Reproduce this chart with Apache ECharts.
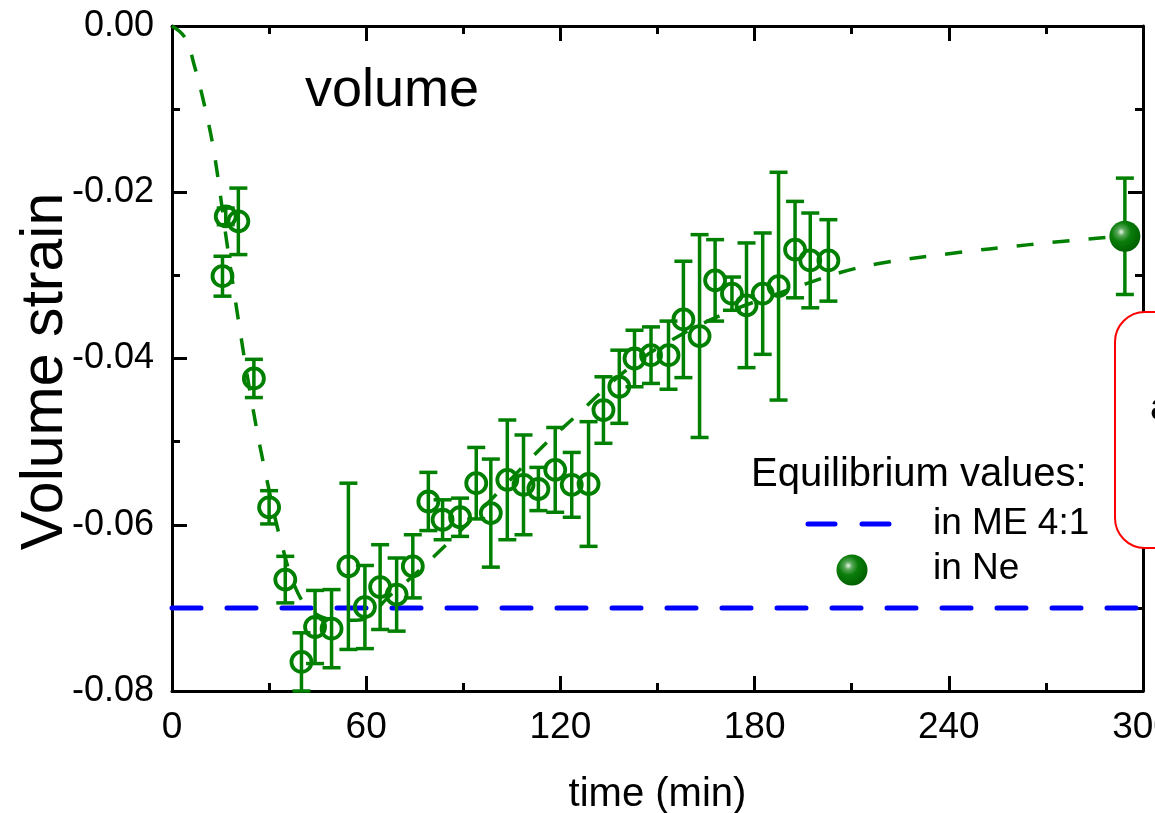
<!DOCTYPE html>
<html>
<head>
<meta charset="utf-8">
<script src="https://cdn.jsdelivr.net/npm/echarts@6/dist/echarts.min.js"></script>
<style>
  html, body { margin: 0; padding: 0; background: #fff; }
  #chart { width: 1155px; height: 813px; }
</style>
</head>
<body>
<div id="chart"></div>
<script>
// measured volume strain (open circles)
const times = [15.6, 16.6, 20.5, 25.3, 30, 35, 40, 44.2, 49.3, 54.5, 59.6, 64.3, 69.4, 74.4, 79.2, 83.6, 89, 94, 98.5, 103.6,
  108.6, 113.2, 118.4, 123.5, 128.7, 133.3, 138.2, 142.9, 148, 153.4, 158, 163, 167.8, 173, 177.5, 182.5, 187.4, 192.5, 197.2, 202.8]
const strains = [-0.0301, -0.0229, -0.0235, -0.0424, -0.0579, -0.0666, -0.0765, -0.0723, -0.0725, -0.0650, -0.0699, -0.0675, -0.0684, -0.0650, -0.0572, -0.0594, -0.0591, -0.0550, -0.0586, -0.0546,
  -0.0552, -0.0557, -0.0534, -0.0552, -0.0551, -0.0462, -0.0434, -0.0400, -0.0396, -0.0396, -0.0353, -0.0373, -0.0306, -0.0322, -0.0336, -0.0322, -0.0313, -0.0269, -0.0282, -0.0282]
const errors = [0.0024, 0.0010, 0.0040, 0.0023, 0.0020, 0.0028, 0.0035, 0.0044, 0.0047, 0.0100, 0.0050, 0.0051, 0.0044, 0.0038, 0.0035, 0.0024, 0.0023, 0.0043, 0.0065, 0.0072,
  0.0060, 0.0026, 0.0051, 0.0039, 0.0075, 0.0040, 0.0044, 0.0034, 0.0034, 0.0041, 0.0070, 0.0122, 0.0049, 0.0020, 0.0075, 0.0073, 0.0137, 0.0058, 0.0057, 0.0049]

// equilibrium in Ne (filled sphere)
const neTime = [294.4]
const neStrain = [-0.0253]
const neError = [0.0070]

// equilibrium in ME 4:1 (blue dashed level)
const meTimes = [0, 300]
const meLevel = -0.070

// guide-to-the-eye curve (green dashed)
const fitTimes = [0, 4, 7, 10, 13, 17, 21, 25, 29, 34, 39, 44, 50, 57, 68, 81, 98, 115, 124, 141, 157, 172, 185, 196, 207, 218, 240, 265, 295]
const fitStrains = [0, -0.0014, -0.0049, -0.0095, -0.0152, -0.0262, -0.0366, -0.0460, -0.0540, -0.0625, -0.0683, -0.0706, -0.0714, -0.0715, -0.0683, -0.0638, -0.0572, -0.0504, -0.0472, -0.0412, -0.0372, -0.0344, -0.0325, -0.0310, -0.0296, -0.0286, -0.0274, -0.0263, -0.0252]

const xTicks = [0, 60, 120, 180, 240, 300]

const GREEN = '#008000'
const FONT = 'Liberation Sans, Arial, sans-serif'

const chart = echarts.init(document.getElementById('chart'))

function errorBarItem(params, api) {
  const t = api.value(0)
  const v = api.value(1)
  const e = api.value(2)
  const top = api.coord([t, v + e])
  const bot = api.coord([t, v - e])
  const cap = 9
  const style = { stroke: GREEN, lineWidth: 3.5 }
  return {
    type: 'group',
    children: [
      { type: 'line', shape: { x1: top[0], y1: top[1], x2: bot[0], y2: bot[1] }, style: style },
      { type: 'line', shape: { x1: top[0] - cap, y1: top[1], x2: top[0] + cap, y2: top[1] }, style: style },
      { type: 'line', shape: { x1: bot[0] - cap, y1: bot[1], x2: bot[0] + cap, y2: bot[1] }, style: style }
    ]
  }
}

const sphere = {
  type: 'radial', x: 0.38, y: 0.36, r: 0.7,
  colorStops: [
    { offset: 0, color: '#e8f5e8' },
    { offset: 0.18, color: '#5aa85a' },
    { offset: 0.45, color: '#0a7d0a' },
    { offset: 1, color: '#005c00' }
  ]
}

const axisCommon = {
  type: 'value',
  axisLine: { show: true, onZero: false, lineStyle: { color: '#000', width: 3 } },
  axisTick: { show: true, inside: true, length: 15, lineStyle: { color: '#000', width: 3 } },
  minorTick: { show: true, splitNumber: 2, length: 8, lineStyle: { color: '#000', width: 3 } },
  splitLine: { show: false }
}

chart.setOption({
  animation: false,
  backgroundColor: '#fff',
  grid: { left: 172, right: 12, top: 26, bottom: 122, outerBoundsMode: 'none', containLabel: false },
  xAxis: [
    Object.assign({}, axisCommon, {
      min: 0, max: 300, interval: 60, position: 'bottom',
      name: 'time (min)', nameLocation: 'middle', nameGap: 84,
      nameTextStyle: { fontFamily: FONT, fontSize: 40, color: '#000' },
      axisLabel: {
        margin: 18, fontFamily: FONT, fontSize: 37, color: '#000',
        formatter: (v) => xTicks.indexOf(v) >= 0 ? String(v) : ''
      }
    }),
    Object.assign({}, axisCommon, {
      min: 0, max: 300, interval: 60, position: 'top', axisLabel: { show: false }
    })
  ],
  yAxis: [
    Object.assign({}, axisCommon, {
      min: -0.08, max: 0, interval: 0.02, position: 'left',
      name: 'Volume strain', nameLocation: 'middle', nameGap: 97, nameMoveOverlap: false,
      nameTextStyle: { fontFamily: FONT, fontSize: 59, color: '#000', padding: [0, 26, 0, 0] },
      axisLabel: {
        margin: 18, fontFamily: FONT, fontSize: 36, color: '#000',
        formatter: (v) => v.toFixed(2)
      }
    }),
    Object.assign({}, axisCommon, {
      min: -0.08, max: 0, interval: 0.02, position: 'right', axisLabel: { show: false }
    })
  ],
  series: [
    {
      name: 'in ME 4:1', type: 'line', symbol: 'none', z: 2,
      data: meTimes.map((t) => [t, meLevel]),
      lineStyle: { color: '#0000ff', width: 5, type: [29, 26], cap: 'round' }
    },
    {
      name: 'fit', type: 'line', symbol: 'none', smooth: 0.4, z: 3,
      data: fitTimes.map((t, i) => [t, fitStrains[i]]),
      lineStyle: { color: GREEN, width: 3.5, type: [17, 19] }
    },
    {
      name: 'errors', type: 'custom', z: 4,
      renderItem: errorBarItem,
      data: times.map((t, i) => [t, strains[i], errors[i]])
    },
    {
      name: 'volume', type: 'scatter', z: 5,
      symbol: 'circle', symbolSize: 20,
      itemStyle: { color: 'rgba(0,0,0,0)', borderColor: GREEN, borderWidth: 3.8, opacity: 1 },
      data: times.map((t, i) => [t, strains[i]])
    },
    {
      name: 'ne errors', type: 'custom', z: 4,
      renderItem: errorBarItem,
      data: neTime.map((t, i) => [t, neStrain[i], neError[i]])
    },
    {
      name: 'in Ne', type: 'scatter', z: 6,
      symbol: 'circle', symbolSize: 31,
      itemStyle: { color: sphere, opacity: 1 },
      data: neTime.map((t, i) => [t, neStrain[i]])
    }
  ],
  graphic: [
    { type: 'text', left: 305, top: 64, style: { text: 'volume', font: '54px ' + FONT, fill: '#000' } },
    { type: 'text', left: 751, top: 455, style: { text: 'Equilibrium values:', font: '40px ' + FONT, fill: '#000' } },
    { type: 'line', shape: { x1: 808, y1: 524, x2: 890, y2: 524 },
      style: { stroke: '#0000ff', lineWidth: 5, lineDash: [27, 27], lineCap: 'round' } },
    { type: 'text', left: 933, top: 505, style: { text: 'in ME 4:1', font: '37px ' + FONT, fill: '#000' } },
    { type: 'circle', shape: { cx: 852, cy: 570, r: 15.5 }, style: { fill: sphere } },
    { type: 'text', left: 933, top: 550, style: { text: 'in Ne', font: '37px ' + FONT, fill: '#000' } },
    { type: 'rect', z: 100, shape: { x: 1115, y: 312, width: 120, height: 236, r: 30 },
      style: { fill: '#fff', stroke: '#ff0000', lineWidth: 2 } },
    { type: 'text', z: 101, x: 1150, y: 390, style: { text: 'a', font: '37px ' + FONT, fill: '#000' } }
  ]
})
</script>
</body>
</html>
